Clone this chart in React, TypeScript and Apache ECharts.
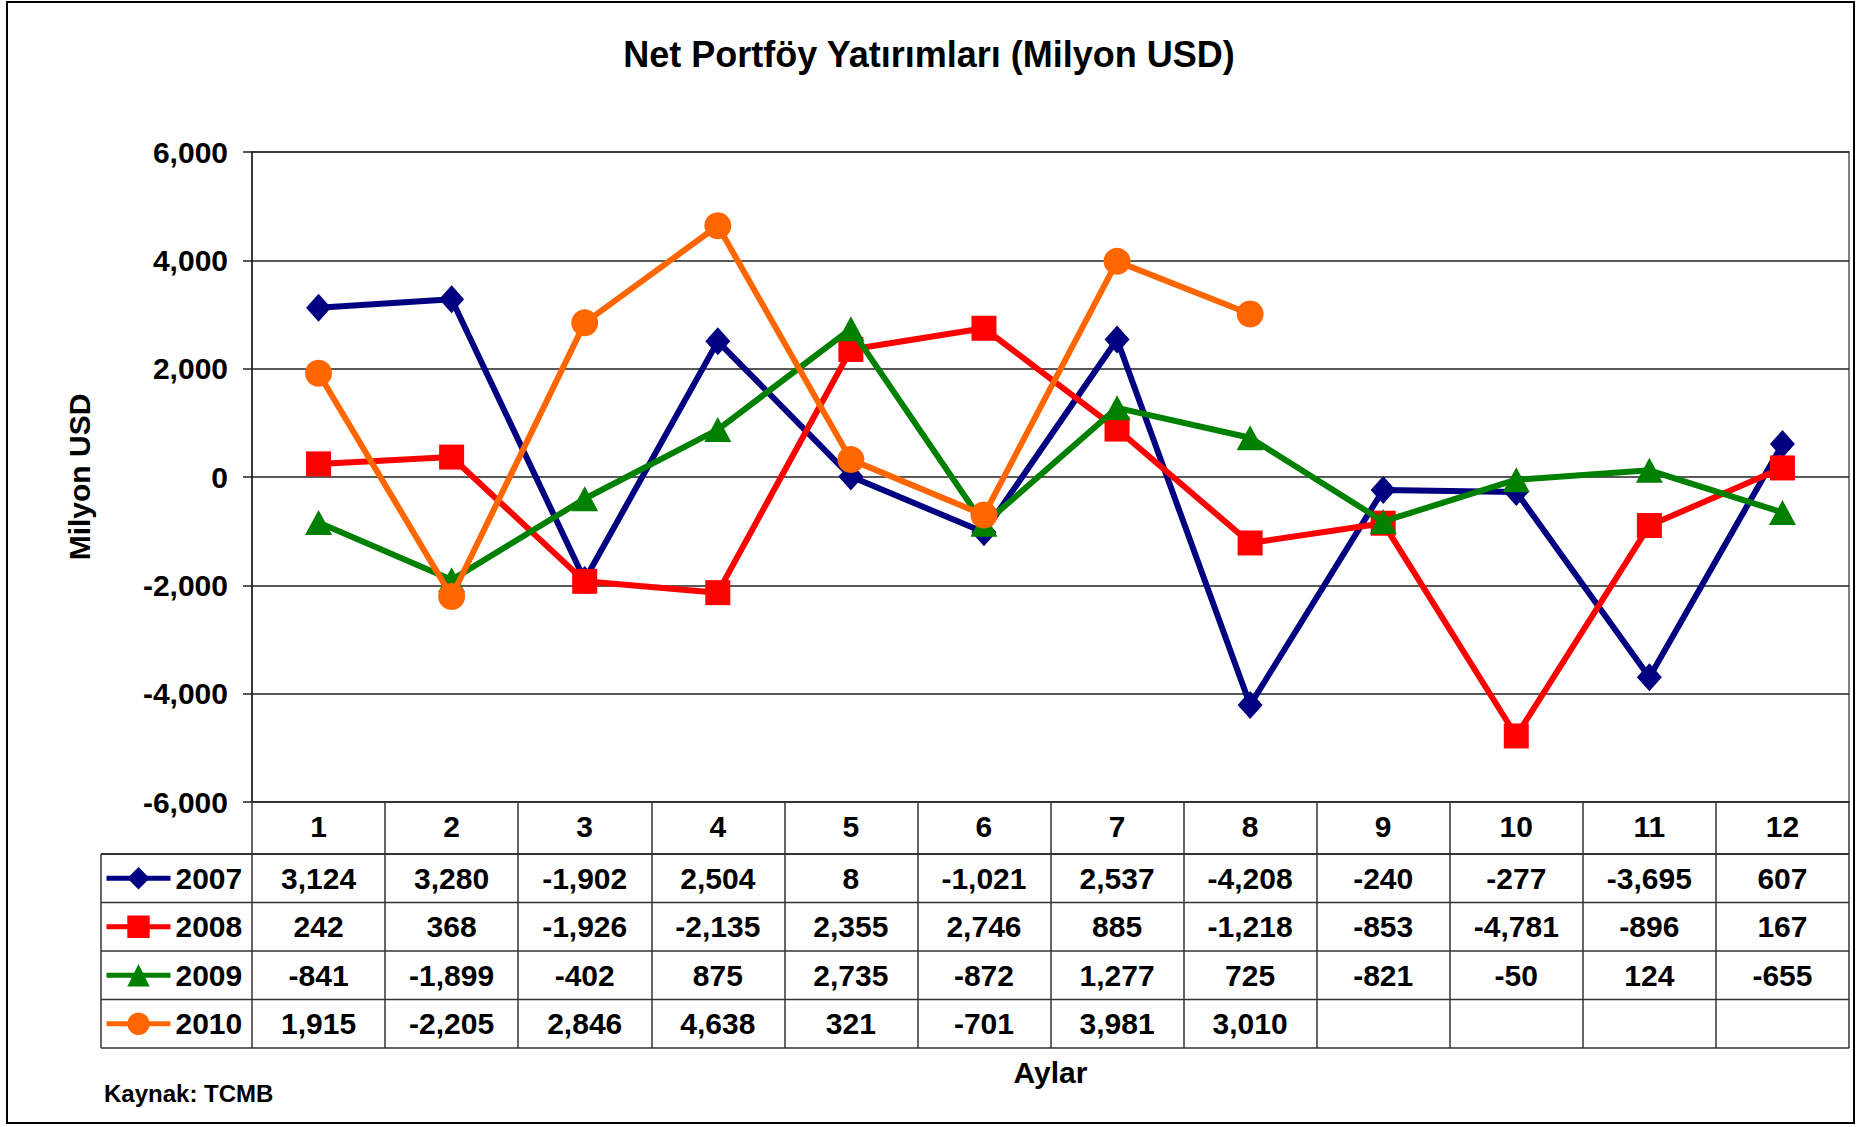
import React, { useEffect, useRef } from 'react';
import * as echarts from 'echarts';

const months = ['1', '2', '3', '4', '5', '6', '7', '8', '9', '10', '11', '12'];
const years = ['2007', '2008', '2009', '2010'];
const v2007 = [3124, 3280, -1902, 2504, 8, -1021, 2537, -4208, -240, -277, -3695, 607];
const v2008 = [242, 368, -1926, -2135, 2355, 2746, 885, -1218, -853, -4781, -896, 167];
const v2009 = [-841, -1899, -402, 875, 2735, -872, 1277, 725, -821, -50, 124, -655];
const v2010 = [1915, -2205, 2846, 4638, 321, -701, 3981, 3010, null, null, null, null];
const seriesValues = [v2007, v2008, v2009, v2010];
const colors = ['#000080', '#FF0000', '#008000', '#FF6600'];
const symbols = ['diamond', 'rect', 'triangle', 'circle'];
const symbolSizes: any[] = [[25, 28], 25, [27, 25], 27];
const yMin = -6000;
const yMax = 6000;
const yInterval = 2000;

const FONT = "'Liberation Sans', Arial, sans-serif";
const fmt = (v: number) => v.toLocaleString('en-US');

export default function App() {
  const ref = useRef<HTMLDivElement>(null);
  useEffect(() => {
    const chart = echarts.init(ref.current!, null, { renderer: 'svg' });
    const gridLeft = 252;
    const gridTop = 152;
    const gridRight = 9;
    const gridHeight = 650;
    const headerH = 52;
    const rowH = 48.5;
    const tableLeft = 101;
    const tableBottomLen = headerH + rowH * 4;

    const option: any = {
      animation: false,
      backgroundColor: '#fff',
      textStyle: { fontFamily: FONT },
      title: {
        text: 'Net Portföy Yatırımları (Milyon USD)',
        left: 'center',
        top: 31,
        textStyle: { fontFamily: FONT, fontSize: 36, fontWeight: 'bold', color: '#000' },
      },
      grid: {
        left: gridLeft,
        top: gridTop,
        right: gridRight,
        height: gridHeight,
        show: true,
        borderColor: '#808080',
        borderWidth: 2,
        backgroundColor: '#fff',
      },
      legend: {
        orient: 'vertical',
        left: 104,
        top: gridTop + gridHeight + headerH + (rowH - 30) / 2,
        itemWidth: 64,
        itemHeight: 28,
        itemGap: rowH - 30,
        padding: 0,
        data: years,
        lineStyle: { width: 5 },
        textStyle: { fontFamily: FONT, fontSize: 30, fontWeight: 'bold', color: '#000', lineHeight: 30 },
      },
      xAxis: {
        type: 'category',
        data: months,
        boundaryGap: true,
        name: 'Aylar',
        nameLocation: 'middle',
        nameGap: 255,
        nameTextStyle: { fontFamily: FONT, fontSize: 30, fontWeight: 'bold', color: '#000' },
        axisLine: { show: true, onZero: false, lineStyle: { color: '#333', width: 2 } },
        axisTick: {
          show: true,
          interval: 0,
          alignWithLabel: false,
          inside: false,
          length: tableBottomLen,
          lineStyle: { color: '#333', width: 1.5 },
        },
        axisLabel: {
          interval: 0,
          margin: 9,
          fontFamily: FONT,
          fontSize: 30,
          fontWeight: 'bold',
          color: '#000',
        },
        splitLine: { show: false },
      },
      yAxis: {
        type: 'value',
        min: yMin,
        max: yMax,
        interval: yInterval,
        name: 'Milyon USD',
        nameLocation: 'middle',
        nameRotate: 90,
        nameGap: 158,
        nameTextStyle: { fontFamily: FONT, fontSize: 30, fontWeight: 'bold', color: '#000' },
        axisLine: { show: true, lineStyle: { color: '#222', width: 1.5 } },
        axisTick: { show: true, inside: false, length: 9, lineStyle: { color: '#222', width: 1.5 } },
        axisLabel: {
          margin: 24,
          fontFamily: FONT,
          fontSize: 30,
          fontWeight: 'bold',
          color: '#000',
          formatter: (v: number) => fmt(v),
        },
        splitLine: { show: true, lineStyle: { color: '#222', width: 1.5 } },
      },
      series: years.map((y, i) => ({
        name: y,
        type: 'line',
        data: seriesValues[i],
        symbol: symbols[i],
        symbolSize: symbolSizes[i],
        showAllSymbol: true,
        connectNulls: false,
        lineStyle: { color: colors[i], width: 6 },
        itemStyle: { color: colors[i] },
        z: 2 + i,
      })),
    };
    chart.setOption(option);

    const axisY = chart.convertToPixel({ yAxisIndex: 0 }, yMin) as number;
    const rightX = chart.convertToPixel({ xAxisIndex: 0 }, months.length - 1) as number;
    const leftX0 = chart.convertToPixel({ xAxisIndex: 0 }, 0) as number;
    const colW = (rightX - leftX0) / (months.length - 1);
    const plotRight = rightX + colW / 2;

    const graphics: any[] = [];
    graphics.push({
      type: 'rect',
      shape: { x: 7, y: 2, width: 1847, height: 1121 },
      style: { fill: 'none', stroke: '#000', lineWidth: 2 },
      silent: true,
      z: 0,
    });
    for (let r = 0; r <= years.length; r++) {
      const y = axisY + headerH + rowH * r;
      graphics.push({
        type: 'line',
        shape: { x1: tableLeft, y1: y, x2: plotRight, y2: y },
        style: { stroke: '#333', lineWidth: r === 0 ? 2 : 1.5 },
        silent: true,
      });
    }
    graphics.push({
      type: 'line',
      shape: { x1: tableLeft, y1: axisY + headerH, x2: tableLeft, y2: axisY + headerH + rowH * years.length },
      style: { stroke: '#333', lineWidth: 1.5 },
      silent: true,
    });
    seriesValues.forEach((vals, r) => {
      const cy = axisY + headerH + rowH * r + rowH / 2;
      vals.forEach((v, i) => {
        if (v === null || v === undefined) return;
        const cx = chart.convertToPixel({ xAxisIndex: 0 }, i) as number;
        graphics.push({
          type: 'text',
          x: cx,
          y: cy,
          style: {
            text: fmt(v as number),
            fontFamily: FONT,
            fontSize: 30,
            fontWeight: 'bold',
            fill: '#000',
            textAlign: 'center',
            textVerticalAlign: 'middle',
          },
          silent: true,
        });
      });
    });
    graphics.push({
      type: 'text',
      x: 104,
      y: 1093,
      style: {
        text: 'Kaynak: TCMB',
        fontFamily: FONT,
        fontSize: 24,
        fontWeight: 'bold',
        fill: '#000',
        textAlign: 'left',
        textVerticalAlign: 'middle',
      },
      silent: true,
    });
    chart.setOption({ graphic: graphics });

    return () => chart.dispose();
  }, []);
  return (
    <div
      ref={ref}
      style={{ position: 'absolute', left: 0, top: 0, width: 1858, height: 1127 }}
    />
  );
}
